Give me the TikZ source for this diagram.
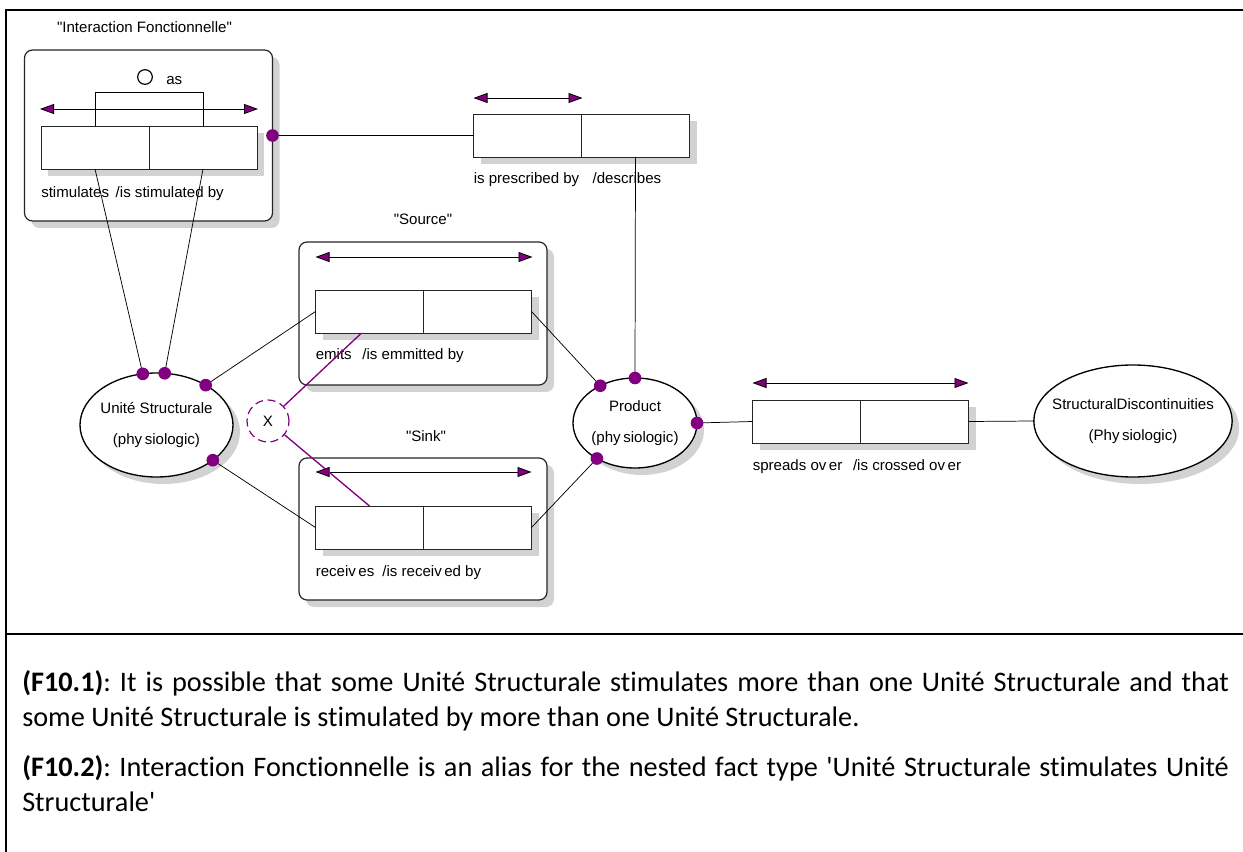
\documentclass[tikz,border=0pt]{standalone}
\usepackage{fontspec}
\setmainfont{Liberation Sans}
\newfontfamily\notefont[Ligatures=NoCommon]{Carlito}
\usepackage{tikz}
\usetikzlibrary{arrows.meta,positioning,shapes.geometric,shadows,calc}
\definecolor{ormpurple}{HTML}{800080}
\definecolor{shadegray}{HTML}{D2D2D2}
\frenchspacing

\begin{document}
\begin{tikzpicture}[x=0.75pt,y=-0.75pt,>=Latex,font=\fontsize{11.3pt}{13pt}\selectfont]
\tikzstyle{castshadow}=[drop shadow={shadow xshift=5.25pt,shadow yshift=-5.25pt,fill=shadegray,opacity=1}]
\tikzstyle{objbox}=[rectangle,rounded corners=6pt,draw=black!85,line width=0.9pt,fill=white,minimum width=186pt,inner sep=0pt,outer sep=0pt,castshadow]
\tikzstyle{cell}=[rectangle,draw=black!85,line width=0.6pt,fill=white,minimum width=81pt,minimum height=32.25pt,inner sep=0pt,outer sep=0pt,castshadow]
\tikzstyle{entity}=[ellipse,draw=black,line width=1pt,fill=white,inner xsep=-8pt,inner ysep=0pt,outer sep=0pt,align=center,font=\fontsize{11.3pt}{23.5pt}\selectfont,castshadow]
\tikzstyle{roledot}=[circle,fill=ormpurple,inner sep=0pt,minimum size=9.5pt]
\tikzstyle{link}=[line width=0.55pt]
\tikzstyle{uniq}=[line width=0.6pt,arrows={Triangle[length=10.5pt,width=7.5pt,fill=ormpurple]-Triangle[length=10.5pt,width=7.5pt,fill=ormpurple]}]
\tikzstyle{reading}=[anchor=base west,inner sep=0pt]
\tikzstyle{title}=[anchor=base,inner sep=0pt]

\useasboundingbox (0,0) rectangle (1243,852);
% frame
\draw[line width=1.6pt] (1243,10) -- (6,10) -- (6,852);
\draw[line width=1.6pt] (6,634) -- (1243,634);

% objectified fact types
\node[objbox,minimum height=128.25pt] (intbox) at (148.5,135.5) {};
\node[objbox,minimum height=107.25pt] (srcbox) at (423,313.5) {};
\node[objbox,minimum height=106.5pt] (sinkbox) at (423,529) {};
\node[title] (inttitle) at ($(intbox.north)+(-4,-17)$) {\textquotedbl Interaction Fonctionnelle\textquotedbl};
\node[title] (srctitle) at ($(srcbox.north)+(0,-17)$) {\textquotedbl Source\textquotedbl};
\node[title] (sinktitle) at ($(sinkbox.north)+(3,-17)$) {\textquotedbl Sink\textquotedbl};

% object types
\node[entity,minimum width=114.75pt,minimum height=78pt] (US) at (156.5,425) {Unité Structurale\\(phy\,siologic)};
\node[entity,minimum width=93pt,minimum height=67.5pt] (Prod) at (635,423) {Product\\(phy\,siologic)};
\node[entity,minimum width=148.5pt,minimum height=84pt] (SD) at (1133,421) {StructuralDiscontinuities\\(Phy\,siologic)};

% fact types
\node[cell] (stimL) at (95,147.5) {};
\node[cell,right=0pt of stimL] (stimR) {};
\node[cell] (presL) at (527.5,135.5) {};
\node[cell,right=0pt of presL] (presR) {};
\node[cell] (emitL) at (369.5,311.5) {};
\node[cell,right=0pt of emitL] (emitR) {};
\node[cell] (recvL) at (369.5,527.5) {};
\node[cell,right=0pt of recvL] (recvR) {};
\node[cell] (sprdL) at (806.5,421.5) {};
\node[cell,right=0pt of sprdL] (sprdR) {};

% ring constraint
\draw[link] (stimL.north) -- ++(0,-34) -| (stimR.north);
\node[circle,draw,line width=0.9pt,minimum size=11pt,inner sep=0pt] (asring) at (145,77) {};
\node[anchor=west,inner sep=0pt] (astext) at (166,81) {as};

% uniqueness
\draw[uniq] ($(stimL.north west)+(-1,-17)$) -- ($(stimR.north east)+(1,-17)$);
\draw[uniq] ($(presL.north west)+(0,-16)$) -- ($(presL.north east)+(1,-16)$);
\draw[uniq] ($(emitL.north west)+(0,-33)$) -- ($(emitR.north east)+(1,-33)$);
\draw[uniq] ($(recvL.north west)+(0,-34)$) -- ($(recvR.north east)+(0,-34)$);
\draw[uniq] ($(sprdL.north west)+(0,-17)$) -- ($(sprdR.north east)+(0,-17)$);

% readings
\node[reading] (stimtxt) at ($(stimL.south west)+(0,29)$) {stimulates\hspace{5pt}/is stimulated by};
\node[reading] (prestxt) at ($(presL.south west)+(0,27)$) {is prescribed by\hspace{10pt}/describes};
\node[reading] (emittxt) at ($(emitL.south west)+(0,27)$) {emits\hspace{8pt}/is emmitted by};
\node[reading] (recvtxt) at ($(recvL.south west)+(0,27)$) {receiv\,es\hspace{6pt}/is receiv\,ed by};
\node[reading] (sprdtxt) at ($(sprdL.south west)+(0,27)$) {spreads ov\,er\hspace{8pt}/is crossed ov\,er};

% exclusion
\node[circle,draw=ormpurple,dash pattern=on 6pt off 3.5pt,line width=0.9pt,minimum size=31.5pt,inner sep=0pt] (xring) at (268,421) {X};

% connectors
\draw[link] (stimL.south) -- (US.105);
\draw[link] (stimR.south) -- (US.81);
\draw[link] (intbox.east) -- (presL.west);
\draw[link] (presR.south) -- (Prod.90);
\draw[link] (emitL.west) -- (US.39);
\draw[link] (emitR.east) -- (Prod.133);
\draw[link] (recvL.west) -- (US.-32);
\draw[link] (recvR.east) -- (Prod.223);
\draw[link] (Prod.0) -- (sprdL.west);
\draw[link] (sprdR.east) -- (SD.west);
\draw[ormpurple,line width=1pt] (xring) -- ($(emitL.south)+(-8,0)$);
\draw[ormpurple,line width=1pt] (xring) -- (recvL.north);

\foreach \a in {105,81,39,-32} \node[roledot] (usdot\a) at (US.\a) {};
\foreach \a in {133,90,0,223} \node[roledot] (proddot\a) at (Prod.\a) {};
\node[roledot] (intdot) at (intbox.east) {};

% notes
\node[anchor=north west,inner sep=0pt,text width=905pt,align=justify,font=\notefont\fontsize{21.2pt}{26.25pt}\selectfont] (notes) at (22,670)
  {\textbf{(F10.1)}: It is possible that some Unité Structurale stimulates more than one Unité Structurale and that\linebreak
   some Unité Structurale is stimulated by more than one Unité Structurale.\\[11.25pt]
   \textbf{(F10.2)}: Interaction Fonctionnelle is an alias for the nested fact type \textquotesingle Unité Structurale stimulates Unité\linebreak
   Structurale\textquotesingle};
\end{tikzpicture}
\end{document}
